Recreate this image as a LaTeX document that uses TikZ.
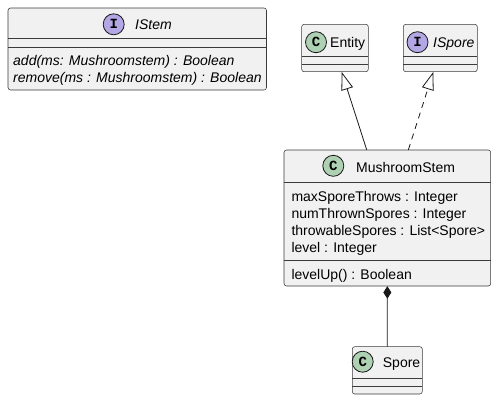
\documentclass[tikz,border=0pt]{standalone}
\usepackage{fontspec}
\setmainfont{Liberation Sans}
\newfontfamily\glyphfont{Liberation Mono}
\usetikzlibrary{arrows.meta}
\definecolor{boxfill}{HTML}{F1F1F1}
\definecolor{boxline}{HTML}{181818}
\definecolor{classdot}{HTML}{ADD1B2}
\definecolor{ifacedot}{HTML}{B4A7E5}
\tikzset{
  umlbox/.style={draw=boxline!85, fill=boxfill, line width=0.55pt, rounded corners=2.5pt},
  divider/.style={draw=boxline!85, line width=0.55pt},
  txt/.style={anchor=base west, inner sep=0pt, font=\fontsize{14}{16}\selectfont},
  itxt/.style={txt, font=\fontsize{14}{16}\selectfont\itshape},
  kinddot/.style={circle, draw=boxline, line width=0.8pt, minimum size=21pt, inner sep=0pt,
    font=\glyphfont\bfseries\fontsize{14}{14}\selectfont},
  extends/.style={draw=boxline, line width=0.8pt, -{Triangle[length=18pt,width=12pt,fill=white]}},
  realizes/.style={extends, dash pattern=on 6pt off 5pt},
  composed/.style={draw=boxline, line width=0.8pt, {Diamond[length=12.5pt,width=8pt]}-}
}
\begin{document}
\begin{tikzpicture}[x=1pt,y=-1pt]
\useasboundingbox (0,0) rectangle (496,400);

% IStem interface
\draw[umlbox] (8,8) rectangle (266.5,90);
\node[inner sep=0pt, minimum width=258.5pt, minimum height=82pt] (istem) at (137.25,49) {};
\draw[divider] (8,38) -- (266.5,38);
\draw[divider] (8,47) -- (266.5,47);
\node[kinddot, fill=ifacedot] (istemdot) at (113.7,24.3) {I};
\node[itxt] (istemname) at (135,29.3) {IStem};
\node[itxt] (istemadd) at (13,65.7) {add(ms: Mushroomstem) : Boolean};
\node[itxt] (istemrem) at (13,82.7) {remove(ms : Mushroomstem) : Boolean};

% Entity class
\draw[umlbox] (301.7,24.3) rectangle (368.3,71.7);
\node[inner sep=0pt, minimum width=66.6pt, minimum height=47.4pt] (entity) at (335,48) {};
\draw[divider] (301.7,56.7) -- (368.3,56.7);
\draw[divider] (301.7,64) -- (368.3,64);
\node[kinddot, fill=classdot] (entitydot) at (316,42.2) {C};
\node[txt] (entityname) at (330,47.3) {Entity};

% ISpore interface
\draw[umlbox] (403.3,24.3) rectangle (477.3,71.7);
\node[inner sep=0pt, minimum width=74pt, minimum height=47.4pt] (ispore) at (440.3,48) {};
\draw[divider] (403.3,56.7) -- (477.3,56.7);
\draw[divider] (403.3,64) -- (477.3,64);
\node[kinddot, fill=ifacedot] (isporedot) at (417.5,42.2) {I};
\node[itxt] (isporename) at (433,47.3) {ISpore};

% MushroomStem class
\draw[umlbox] (284,150) rectangle (490.7,286);
\node[inner sep=0pt, minimum width=206.7pt, minimum height=136pt] (ms) at (387.35,218) {};
\draw[divider] (284,182.3) -- (490.7,182.3);
\draw[divider] (284,260.7) -- (490.7,260.7);
\node[kinddot, fill=classdot] (msdot) at (333.3,165.8) {C};
\node[txt] (msname) at (356,172) {MushroomStem};
\node[txt] (msa1) at (291.3,201.7) {maxSporeThrows : Integer};
\node[txt] (msa2) at (291.3,218.3) {numThrownSpores : Integer};
\node[txt] (msa3) at (291.3,235) {throwableSpores : List<Spore>};
\node[txt] (msa4) at (291.3,252.3) {level : Integer};
\node[txt] (msm1) at (291.3,279.3) {levelUp() : Boolean};

% Spore class
\draw[umlbox] (352.3,346.7) rectangle (422.3,394);
\node[inner sep=0pt, minimum width=70pt, minimum height=47.3pt] (spore) at (387.3,370.35) {};
\draw[divider] (352.3,378.3) -- (422.3,378.3);
\draw[divider] (352.3,386) -- (422.3,386);
\node[kinddot, fill=classdot] (sporedot) at (362.7,361.7) {C};
\node[txt] (sporename) at (382.7,367.3) {Spore};

% relations
\draw[extends] ([xshift=-20.65pt]ms.north) -- ([xshift=6.7pt]entity.south);
\draw[realizes] ([xshift=21pt]ms.north) -- ([xshift=-7pt]ispore.south);
\draw[composed] (ms.south) -- (spore.north);
\end{tikzpicture}
\end{document}
